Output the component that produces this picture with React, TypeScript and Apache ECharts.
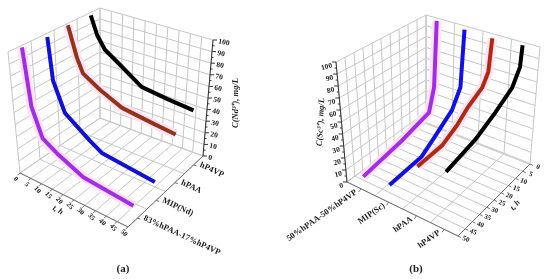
import React, { useEffect, useRef } from "react";
import * as echarts from "echarts";

// ---- data: t (h) and C (mg/L) for each curve ----
const aPurpleT = [1, 3, 7, 14, 25, 48];
const aPurpleC = [100, 52, 29, 21, 12, 8];
const aBlueT = [2, 3.4, 8, 19, 24.5, 49];
const aBlueC = [100, 64, 40, 25, 19, 14];
const aBrownT = [1, 4.5, 7, 14.5, 24.5, 39, 49];
const aBrownC = [100, 74, 62, 53, 44.5, 41, 39];
const aBlackT = [1, 3.7, 7.2, 14, 24, 36, 48];
const aBlackC = [99, 83, 72, 63, 50, 47, 45];

const bPurpleT = [2, 3.3, 6.4, 23, 48];
const bPurpleC = [100, 41, 21, 14, 8];
const bBlueT = [2.5, 4, 9, 21, 28.5, 49];
const bBlueC = [100, 50, 35, 22, 15, 13];
const bRedT = [3, 4.5, 8, 17, 23.6, 33, 49];
const bRedC = [100, 72, 62, 54, 46, 39, 38];
const bBlackT = [2, 2.7, 7, 17.5, 30.5, 49.5];
const bBlackC = [100, 82, 69, 59, 50, 44];

const tTicks = [0, 5, 10, 15, 20, 25, 30, 35, 40, 45, 50];
const cTicks = [0, 10, 20, 30, 40, 50, 60, 70, 80, 90, 100];
const catPos = [0.125, 0.375, 0.625, 0.875];
const aCats = ["83%hPAA-17%hP4VP", "MIP(Nd)", "hPAA", "hP4VP"];
const bCats = ["50%hPAA-50%hP4VP", "MIP(Sc)", "hPAA", "hP4VP"];

// ---- the two 3D boxes: corner = [u(t/50), f(category), v(C/100)] ----
type P = [number, number];
type Box = { b00: P; b01: P; b10: P; b11: P; t00: P; t01: P; t10: P; t11: P };
const boxA: Box = {
  b00: [20, 173], b01: [100, 118], b10: [128, 227], b11: [203, 156],
  t00: [8, 52], t01: [100, 8], t10: [132, 97], t11: [213, 40],
};
const boxB: Box = {
  b00: [426, 123], b01: [530, 164], b10: [347, 182], b11: [458, 236],
  t00: [426, 15], t01: [540, 47], t10: [336, 62], t11: [462.5, 106],
};

function project(box: Box, t: number, f: number, c: number): P {
  const u = t / 50, v = c / 100;
  const mix = (i: 0 | 1) => {
    const base = (1 - u) * ((1 - f) * box.b00[i] + f * box.b01[i]) + u * ((1 - f) * box.b10[i] + f * box.b11[i]);
    const top = (1 - u) * ((1 - f) * box.t00[i] + f * box.t01[i]) + u * ((1 - f) * box.t10[i] + f * box.t11[i]);
    return (1 - v) * base + v * top;
  };
  return [mix(0), mix(1)];
}

type Seg = [P, P];
const deg = (d: number) => (d * Math.PI) / 180;
const SERIF = '"Liberation Serif", serif';

function segSeries(segs: Seg[], color: string, width: number, z: number) {
  const data: any[] = [];
  segs.forEach(([a, b]) => { data.push(a, b, ["-", "-"]); });
  return {
    type: "line", data, symbol: "none", silent: true, z, connectNulls: false,
    lineStyle: { color, width }, animation: false,
  };
}

function curve(box: Box, f: number, ts: number[], cs: number[], color: string, halo?: string) {
  const data = ts.map((t, i) => project(box, t, f, cs[i]));
  const out: any[] = [];
  if (halo) {
    out.push({ type: "line", data, symbol: "none", silent: true, z: 4, lineStyle: { color: halo, width: 10, cap: "butt" } });
  }
  out.push({ type: "line", data, symbol: "none", silent: true, z: 5, lineStyle: { color, width: 4, cap: "butt", join: "round" } });
  return out;
}

function wallSegs(box: Box, wallF: number) {
  const g: Seg[] = [];
  const cols = [0, 0.25, 0.5, 0.75, 1];
  // floor
  tTicks.forEach((t) => g.push([project(box, t, 0, 0), project(box, t, 1, 0)]));
  cols.forEach((f) => g.push([project(box, 0, f, 0), project(box, 50, f, 0)]));
  // wall at t = 0, split by categories
  cols.forEach((f) => g.push([project(box, 0, f, 0), project(box, 0, f, 100)]));
  cTicks.forEach((c) => g.push([project(box, 0, 0, c), project(box, 0, 1, c)]));
  // wall along t
  tTicks.forEach((t) => g.push([project(box, t, wallF, 0), project(box, t, wallF, 100)]));
  cTicks.forEach((c) => g.push([project(box, 0, wallF, c), project(box, 50, wallF, c)]));
  return g;
}

const text = (s: string, x: number, y: number, rot: number, align: string, size = 7.5, italic = false) => ({
  type: "text", x, y, rotation: deg(rot), silent: true,
  style: {
    text: s, x: 0, y: 0, fill: "#1c1c1c", fontFamily: SERIF, fontSize: size, fontWeight: "bold",
    fontStyle: italic ? "italic" : "normal", align, verticalAlign: "middle",
  },
});

function buildOption() {
  const series: any[] = [];
  const graphic: any[] = [];
  const axisA: Seg[] = [];
  const axisB: Seg[] = [];
  const edgeA: Seg[] = [];
  const edgeB: Seg[] = [];

  // Panel (a)
  series.push(segSeries(wallSegs(boxA, 1), "#c6c6c6", 1, 1));
  axisA.push([project(boxA, 50, 1, 0), project(boxA, 50, 1, 100)]);
  edgeA.push([project(boxA, 0, 0, 0), project(boxA, 50, 0, 0)]);
  edgeA.push([project(boxA, 50, 0, 0), project(boxA, 50, 1, 0)]);
  cTicks.forEach((c) => {
    const p = project(boxA, 50, 1, c);
    axisA.push([p, [p[0] + 4, p[1]]]);
    if (c < 100) { const m = project(boxA, 50, 1, c + 5); axisA.push([m, [m[0] + 2, m[1]]]); }
    graphic.push(text(String(c), p[0] + 5.5, p[1] + 1, -10, "left"));
  });
  tTicks.forEach((t) => {
    const p = project(boxA, t, 0, 0);
    edgeA.push([p, [p[0] - 2.5, p[1] + 2]]);
    graphic.push(text(String(t), p[0] - 4, p[1] + 6, -48, "center", 7));
  });
  catPos.forEach((f, i) => {
    const p = project(boxA, 50, f, 0);
    edgeA.push([p, [p[0] + 3, p[1] + 1]]);
    graphic.push(text(aCats[i], p[0] + 7, p[1] - 1, -25, "left", 8.5));
  });
  graphic.push(text("t, h", 58, 210, -30, "center", 8, true));
  graphic.push(text("C(Nd³⁺), mg/L", 235, 103, 90, "center", 8.5, true));
  graphic.push(text("(a)", 123, 268, 0, "center", 11));

  // Panel (b)
  series.push(segSeries(wallSegs(boxB, 0), "#c6c6c6", 1, 1));
  series.push(segSeries([[project(boxB, 0, 0, 0), project(boxB, 0, 1, 0)], [project(boxB, 0, 0, 0), project(boxB, 0, 0, 100)]], "#cfcfcf", 2, 2));
  axisB.push([project(boxB, 50, 0, 0), project(boxB, 50, 0, 100)]);
  edgeB.push([project(boxB, 50, 0, 0), project(boxB, 50, 1, 0)]);
  edgeB.push([project(boxB, 0, 1, 0), project(boxB, 50, 1, 0)]);
  cTicks.forEach((c) => {
    const p = project(boxB, 50, 0, c);
    axisB.push([p, [p[0] - 4, p[1]]]);
    if (c < 100) { const m = project(boxB, 50, 0, c + 5); axisB.push([m, [m[0] - 2, m[1]]]); }
    graphic.push(text(String(c), p[0] - 4, p[1] + 3, 14, "right"));
  });
  tTicks.forEach((t) => {
    const p = project(boxB, t, 1, 0);
    edgeB.push([p, [p[0] + 3, p[1] + 1.5]]);
    graphic.push(text(String(t), p[0] + 8, p[1] + 3, -20, "center", 7));
  });
  catPos.forEach((f, i) => {
    const p = project(boxB, 50, f, 0);
    edgeB.push([p, [p[0] - 2, p[1] + 3]]);
    graphic.push(text(bCats[i], p[0] - 5, p[1] + 2, 35, "right", 8.5));
  });
  graphic.push(text("t, h", 515, 205, 50, "center", 8, true));
  graphic.push(text("C(Sc³⁺), mg/L", 320, 122, 87, "center", 8.5, true));
  graphic.push(text("(b)", 416, 268, 0, "center", 11));

  series.push(segSeries(axisA, "#333333", 1, 3));
  series.push(segSeries(axisB, "#333333", 1, 3));
  series.push(segSeries(edgeA, "#707070", 1, 3));
  series.push(segSeries(edgeB, "#707070", 1, 3));

  // Curves
  const halo = "#ffe4f6";
  series.push(...curve(boxA, catPos[0], aPurpleT, aPurpleC, "#a52ce6", halo));
  series.push(...curve(boxA, catPos[1], aBlueT, aBlueC, "#1010d8"));
  series.push(...curve(boxA, catPos[2], aBrownT, aBrownC, "#93341a", halo));
  series.push(...curve(boxA, catPos[3], aBlackT, aBlackC, "#000000"));
  series.push(...curve(boxB, catPos[0], bPurpleT, bPurpleC, "#a52ce6", halo));
  series.push(...curve(boxB, catPos[1], bBlueT, bBlueC, "#1010e8"));
  series.push(...curve(boxB, catPos[2], bRedT, bRedC, "#b02a12", halo));
  series.push(...curve(boxB, catPos[3], bBlackT, bBlackC, "#000000"));

  return {
    animation: false,
    backgroundColor: "#ffffff",
    grid: { left: 0, right: 0, top: 0, bottom: 0, containLabel: false },
    xAxis: { type: "value", min: 0, max: 550, show: false },
    yAxis: { type: "value", min: 0, max: 279, inverse: true, show: false },
    series,
    graphic,
  };
}

export default function App() {
  const ref = useRef<HTMLDivElement>(null);
  useEffect(() => {
    document.body.style.margin = "0";
    const chart = echarts.init(ref.current!, undefined, { renderer: "svg" });
    chart.setOption(buildOption());
    return () => chart.dispose();
  }, []);
  return <div ref={ref} style={{ width: 550, height: 279, filter: "blur(0.45px)" }} />;
}
